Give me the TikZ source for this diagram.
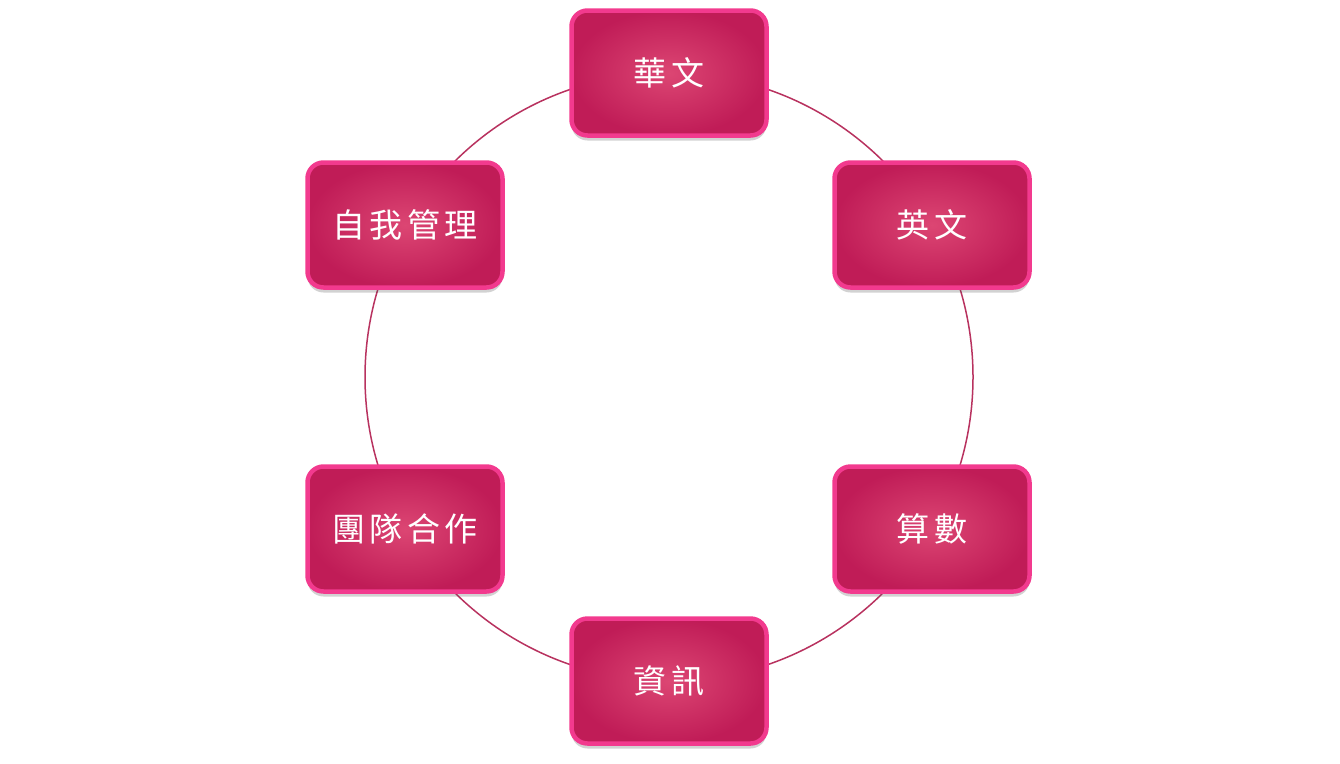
\documentclass[tikz,border=0pt]{standalone}
\usepackage{fontspec}
\newfontfamily\cjk[LetterSpace=14]{Noto Sans CJK TC}
\usetikzlibrary{shadows}
\definecolor{ring}{HTML}{B8325F}
\definecolor{boxedge}{HTML}{F23A8E}
\definecolor{boxin}{HTML}{DC4673}
\definecolor{boxout}{HTML}{C01C57}
\begin{document}
\begin{tikzpicture}[x=1pt,y=-1pt,
  box/.style={rounded corners=16pt, minimum width=195pt, minimum height=125pt,
    draw=boxedge, line width=4.5pt, inner color=boxin, outer color=boxout,
    font=\cjk\fontsize{33}{33}\selectfont, text=white,
    drop shadow={shadow xshift=0pt, shadow yshift=-5pt, opacity=0.25, fill=black!70}},
  ringline/.style={draw=ring, line width=1.5pt}]
\useasboundingbox (0,0) rectangle (1340,763);
\coordinate (c) at (669,377);
\draw[ringline] (c) circle[radius=304pt];
\node[box] (hua) at (669,73) {華文};
\node[box] (ying) at (932,225) {英文};
\node[box] (suan) at (932,529) {算數};
\node[box] (zi) at (669,681) {資訊};
\node[box] (tuan) at (405,529) {團隊合作};
\node[box] (self) at (405,225) {自我管理};
\end{tikzpicture}
\end{document}
